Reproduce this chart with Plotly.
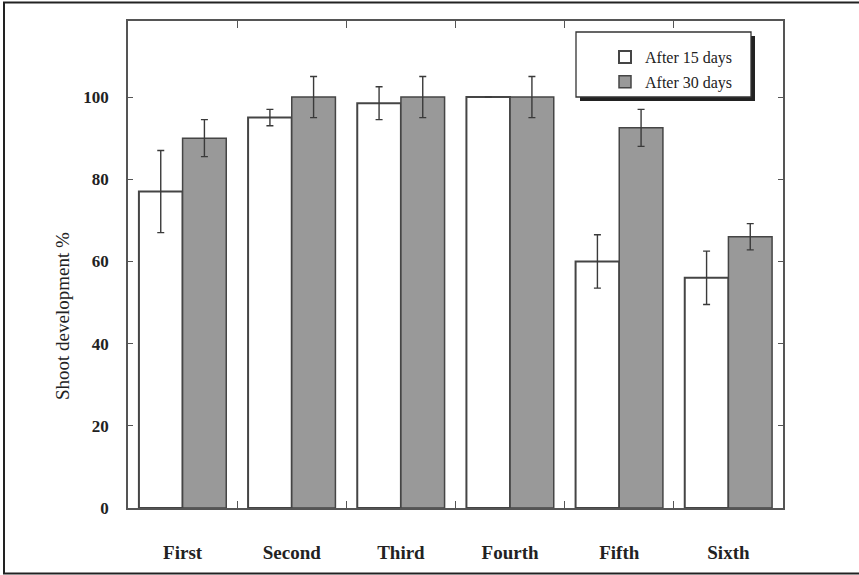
import plotly.graph_objects as go

categories = ["First", "Second", "Third", "Fourth", "Fifth", "Sixth"]
after15 = [77, 95, 98.5, 100, 60, 56]
after15_err = [10, 2, 4, 0, 6.5, 6.5]
after30 = [90, 100, 100, 100, 92.5, 66]
after30_err = [4.5, 5, 5, 5, 4.5, 3.2]
y_ticks = [0, 20, 40, 60, 80, 100]
series_names = ["After 15 days", "After 30 days"]

W, H = 859, 575
L, R, T, B = 128, 783, 21, 508
YMAX = 118.5

def px(x):
    return (x - L) / (R - L)

def py(y):
    return (B - y) / (B - T)

SERIF = "Liberation Serif, Times New Roman, serif"
EDGE = "#454545"

fig = go.Figure()
fig.add_trace(go.Bar(
    x=categories, y=after15, name=series_names[0], legendgroup="a",
    marker=dict(color="white", line=dict(color=EDGE, width=2)),
    error_y=dict(type="data", array=after15_err, color="#3a3a3a", thickness=1.4, width=3.5),
))
fig.add_trace(go.Bar(
    x=categories, y=after30, name=series_names[1], legendgroup="b",
    marker=dict(color="#999999", line=dict(color=EDGE, width=1.5)),
    error_y=dict(type="data", array=after30_err, color="#3a3a3a", thickness=1.4, width=3.5),
))

axis_common = dict(showline=True, linecolor="#555555", linewidth=1.6, mirror="ticks",
                   ticks="inside", tickcolor="#555555", tickwidth=1.3, showgrid=False,
                   zeroline=False)

fig.update_layout(
    width=W, height=H,
    margin=dict(l=L, r=W - R, t=T, b=H - B),
    paper_bgcolor="white", plot_bgcolor="white",
    barmode="group", bargap=0.2, bargroupgap=0,
    font=dict(family=SERIF, color="#222222"),
    xaxis=dict(**axis_common, tickson="boundaries", ticklen=7, range=[-0.5, 5.5],
               tickfont=dict(size=19, family=SERIF, weight="bold"), ticklabelstandoff=26),
    yaxis=dict(**axis_common, range=[0, YMAX], tickvals=y_ticks, ticklen=5,
               tickfont=dict(size=17, family=SERIF, weight="bold"), ticklabelstandoff=14),
    showlegend=True,
    legend=dict(x=px(605), y=py(40), xanchor="left", yanchor="top",
                bgcolor="rgba(0,0,0,0)", borderwidth=0, tracegroupgap=1,
                font=dict(size=16, family=SERIF, color="#222222")),
)

# y-axis title
fig.add_annotation(text="Shoot development %", textangle=-90, showarrow=False,
                   xref="paper", yref="paper", x=px(63), y=py(316),
                   xanchor="center", yanchor="middle",
                   font=dict(size=19, family=SERIF, color="#222222"))

# legend box with drop shadow
fig.add_shape(type="rect", xref="paper", yref="paper", layer="above",
              x0=px(580), x1=px(755), y0=py(36), y1=py(101),
              fillcolor="#222222", line=dict(width=0))
fig.add_shape(type="rect", xref="paper", yref="paper", layer="above",
              x0=px(576), x1=px(751), y0=py(32), y1=py(97),
              fillcolor="white", line=dict(color="#333333", width=1.3))

# outer frame around the figure
fig.add_shape(type="rect", xref="paper", yref="paper", layer="above",
              x0=px(4), x1=px(880), y0=py(2.5), y1=py(573.5),
              line=dict(color="#222222", width=2), fillcolor="rgba(0,0,0,0)")

fig.write_html("out.html", config={"displayModeBar": False},
               post_script="document.body.style.margin='0';")
